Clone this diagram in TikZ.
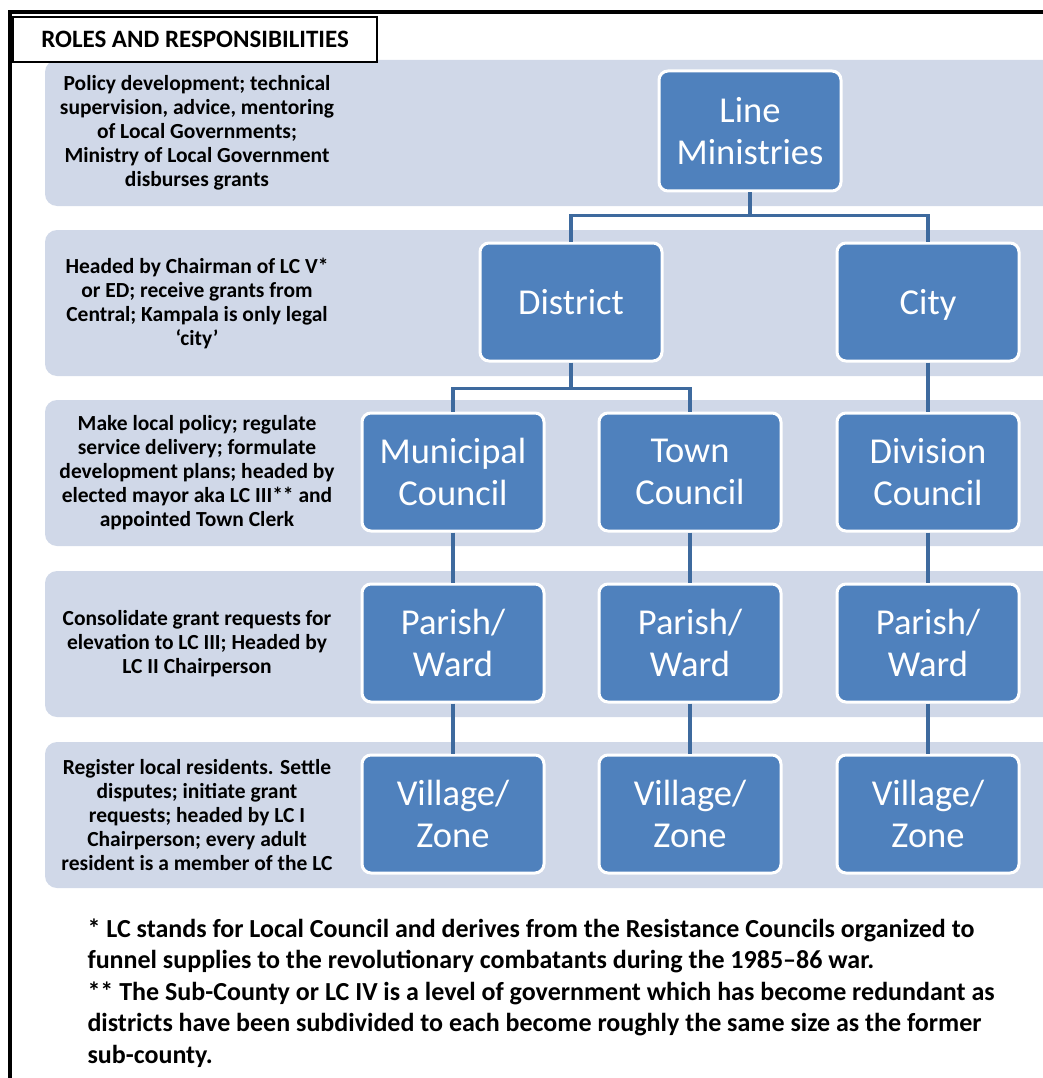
\documentclass[tikz,border=0pt]{standalone}
\usepackage{fontspec}
\setmainfont{Carlito}
\usepackage{tikz}
\usetikzlibrary{positioning}
\definecolor{bandgray}{RGB}{208,216,232}
\definecolor{boxblue}{RGB}{79,129,189}
\definecolor{linkblue}{RGB}{62,106,158}

\begin{document}
\begin{tikzpicture}[
    x=1pt,y=-1pt,node distance=50pt,
  unit/.style={rectangle,rounded corners=9pt,fill=boxblue,draw=white,line width=3pt,
    minimum width=182pt,minimum height=118pt,align=center,text=white,
    font=\fontsize{36.5}{42}\selectfont},
  band/.style={fill=bandgray,rounded corners=12pt},
  role/.style={align=center,font=\bfseries\fontsize{21.5}{24}\selectfont},
  link/.style={draw=linkblue,line width=3.5pt},
  frame/.style={draw=black,line width=4pt},
  header/.style={draw=black,line width=1.5pt,fill=white,minimum width=364pt,
    minimum height=45pt,font=\bfseries\fontsize{25}{28}\selectfont},
]
  \useasboundingbox (0,0) rectangle (1042,1078);

  \draw[frame] (10,1100) |- (1070,12);
  \foreach \y in {60,230,400,571,742}
    \fill[band] (45,\y) rectangle (1090,\y+146);
  \node[header] (roles) at (195,39.5) {ROLES AND RESPONSIBILITIES};

  \node[role] (r1) at (197,133) {Policy development; technical\\supervision, advice, mentoring\\of Local Governments;\\Ministry of Local Government\\disburses grants};
  \node[role] (r2) at (197,303) {Headed by Chairman of LC V*\\or ED; receive grants from\\Central; Kampala is only legal\\`city'};
  \node[role] (r3) at (197,473) {Make local policy; regulate\\service delivery; formulate\\development plans; headed by\\elected mayor aka LC III** and\\appointed Town Clerk};
  \node[role] (r4) at (197,644) {Consolidate grant requests for\\elevation to LC III; Headed by\\LC II Chairperson};
  \node[role] (r5) at (197,815) {Register local residents. Settle\\disputes; initiate grant\\requests; headed by LC I\\Chairperson; every adult\\resident is a member of the LC};

  \node[unit] (mun) at (453,472) {Municipal\\Council};
  \node[unit] (town) [right=52pt of mun] {Town\\Council};
  \node[unit] (div) [right=53pt of town] {Division\\Council};
  \node[unit,text depth=0pt] (dist) at (571,302) {District};
  \node[unit,text depth=0pt] (city) at (928,302) {City};
  \node[unit,minimum height=120pt] (lm) at (750,131) {Line\\Ministries};
  \node[unit] (p1) [below=of mun] {Parish/\\Ward};
  \node[unit] (p2) [below=of town] {Parish/\\Ward};
  \node[unit] (p3) [below=of div] {Parish/\\Ward};
  \node[unit] (v1) [below=of p1] {Village/\\Zone};
  \node[unit] (v2) [below=of p2] {Village/\\Zone};
  \node[unit] (v3) [below=of p3] {Village/\\Zone};

  \draw[link] (lm.south) -- ++(0,23) coordinate (j1) -| (dist.north);
  \draw[link] (j1) -| (city.north);
  \draw[link] (dist.south) -- ++(0,26) coordinate (j2) -| (mun.north);
  \draw[link] (j2) -| (town.north);
  \draw[link] (city) -- (div);
  \draw[link] (mun) -- (p1);
  \draw[link] (town) -- (p2);
  \draw[link] (div) -- (p3);
  \draw[link] (p1) -- (v1);
  \draw[link] (p2) -- (v2);
  \draw[link] (p3) -- (v3);

  \node[anchor=north west,align=left,font=\bfseries\fontsize{26}{31.5}\selectfont] (notes) at (84,915)
    {* LC stands for Local Council and derives from the Resistance Councils organized to\\
     funnel supplies to the revolutionary combatants during the 1985--86 war.\\
     ** The Sub-County or LC IV is a level of government which has become redundant as\\
     districts have been subdivided to each become roughly the same size as the former\\
     sub-county.};
\end{tikzpicture}
\end{document}
